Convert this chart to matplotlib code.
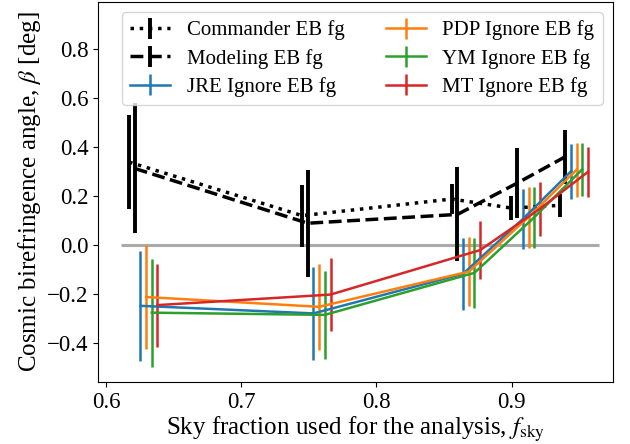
import matplotlib
matplotlib.use("Agg")
import matplotlib.pyplot as plt
import numpy as np

plt.rcParams["font.family"] = ["Liberation Serif", "DejaVu Serif"]
plt.rcParams["mathtext.fontset"] = "stix"
plt.rcParams["font.size"] = 16.5

# sky fractions (position of the first series in each group)
fsky = np.array([0.617, 0.745, 0.8557, 0.8999, 0.9355])
offset = 0.0042

labels = ["Commander EB fg", "Modeling EB fg", "JRE Ignore EB fg",
          "PDP Ignore EB fg", "YM Ignore EB fg", "MT Ignore EB fg"]

beta_commander = [0.339, 0.120, 0.188, 0.151, 0.162]
err_commander = [0.192, 0.127, 0.062, 0.050, 0.047]
beta_modeling = [0.313, 0.089, 0.125, 0.253, 0.361]
err_modeling = [0.266, 0.219, 0.192, 0.143, 0.111]
beta_jre = [-0.249, -0.280, -0.118, 0.106, 0.301]
err_jre = [0.225, 0.190, 0.148, 0.124, 0.113]
beta_pdp = [-0.213, -0.253, -0.109, 0.114, 0.308]
err_pdp = [0.213, 0.176, 0.142, 0.125, 0.110]
beta_ym = [-0.277, -0.286, -0.114, 0.113, 0.310]
err_ym = [0.221, 0.179, 0.142, 0.124, 0.108]
beta_mt = [-0.246, -0.203, -0.021, 0.148, 0.299]
err_mt = [0.170, 0.151, 0.120, 0.111, 0.101]

fig = plt.figure(figsize=(6.3, 4.44), dpi=100)
ax = fig.add_axes([0.1556, 0.140, 0.8174, 0.856])

ax.hlines(0, 0.611, 0.965, color="#aaaaaa", lw=2.2, zorder=0)

ax.errorbar(fsky, beta_commander, yerr=err_commander, color="k", ls=":",
            lw=2.5, elinewidth=2.8, label=labels[0])
ax.errorbar(fsky + offset, beta_modeling, yerr=err_modeling, color="k", ls="--",
            lw=2.5, elinewidth=2.8, label=labels[1])

colored = [(beta_jre, err_jre, "C0"), (beta_pdp, err_pdp, "C1"),
           (beta_ym, err_ym, "C2"), (beta_mt, err_mt, "C3")]
for i, (b, e, c) in enumerate(colored):
    ax.errorbar(fsky + (i + 2) * offset, b, yerr=e, color=c, lw=1.8,
                elinewidth=1.8, label=labels[i + 2])

ax.set_xlim(0.594, 0.975)
ax.set_ylim(-0.56, 0.995)
ax.set_xticks([0.6, 0.7, 0.8, 0.9])
ax.set_yticks([-0.4, -0.2, 0.0, 0.2, 0.4, 0.6, 0.8])
ax.set_xlabel(r"Sky fraction used for the analysis, $f_\mathrm{sky}$",
              fontsize=18, labelpad=1.5)
ax.set_ylabel(r"Cosmic birefringence angle, $\beta$ [deg]", fontsize=18,
              labelpad=3)

ax.legend(loc="upper right", ncol=2, fontsize=15, handlelength=1.9,
          handletextpad=0.8, columnspacing=2.0, labelspacing=0.4)

fig.savefig("out.png", dpi=100)
